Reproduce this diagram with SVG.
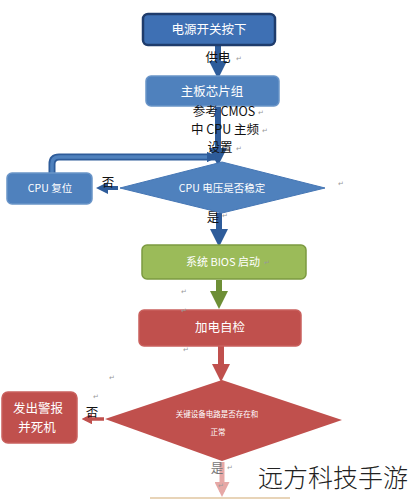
<svg xmlns="http://www.w3.org/2000/svg" width="412" height="500" viewBox="0 0 412 500">
<defs>
<style>
text{font-family:"Noto Sans CJK SC","Liberation Sans",sans-serif;}
.w{fill:#fff;text-anchor:middle;}
.k{fill:#111;text-anchor:middle;font-size:12.5px;}
.p{fill:#999;font-size:7px;}
.blue{fill:#4F81BD;stroke:#6A95C8;stroke-width:1.5;}
</style>
<marker id="ab" markerWidth="3" markerHeight="3" refX="2" refY="1.5" orient="auto" markerUnits="strokeWidth"><path d="M0,0 L3,1.5 L0,3 Z" fill="#2E5C9A"/></marker>
<marker id="ag" markerWidth="3" markerHeight="3" refX="2" refY="1.5" orient="auto" markerUnits="strokeWidth"><path d="M0,0 L3,1.5 L0,3 Z" fill="#6E8F36"/></marker>
<marker id="ar" markerWidth="3" markerHeight="3" refX="2" refY="1.5" orient="auto" markerUnits="strokeWidth"><path d="M0,0 L3,1.5 L0,3 Z" fill="#C0504D"/></marker>
<marker id="ap" markerWidth="3" markerHeight="3" refX="2" refY="1.5" orient="auto" markerUnits="strokeWidth"><path d="M0,0 L3,1.5 L0,3 Z" fill="#E6A8A6"/></marker>
</defs>
<rect width="412" height="500" fill="#fff"/>

<g id="connectors">
<path d="M218,46 V73" stroke="#2E5C9A" stroke-width="6" fill="none" marker-end="url(#ab)"/>
<path d="M218,107 V160" stroke="#2E5C9A" stroke-width="6" fill="none" marker-end="url(#ab)"/>
<path d="M52,173 V164 Q52,157 59,157 H218" stroke="#2E5C9A" stroke-width="7" fill="none"/>
<path d="M52,173 V164 Q52,157 59,157 H214" stroke="#4F81BD" stroke-width="3.5" fill="none" marker-end="url(#ab)"/>
<path d="M118,188 H100" stroke="#2E5C9A" stroke-width="4" fill="none" marker-end="url(#ab)"/>
<path d="M219,213 V241" stroke="#2E5C9A" stroke-width="6" fill="none" marker-end="url(#ab)"/>
<path d="M219,280 V303" stroke="#6E8F36" stroke-width="6" fill="none" marker-end="url(#ag)"/>
<path d="M221,346 V376" stroke="#C0504D" stroke-width="6" fill="none" marker-end="url(#ar)"/>
<path d="M104,419 H85" stroke="#C0504D" stroke-width="3.5" fill="none" marker-end="url(#ar)"/>
<path d="M222,462 V492" stroke="#E6A8A6" stroke-width="5" fill="none" marker-end="url(#ap)"/>
<text x="218" y="62" class="k">供电</text>
<text x="108" y="187" class="k">否</text>
<text x="213" y="222" class="k">是</text>
<text x="92" y="417" class="k">否</text>
<text x="217" y="473" class="k" style="fill:#777">是</text>
</g>

<g id="n1">
<rect x="143" y="14" width="132" height="31" rx="5" fill="#3E70B4" stroke="#1F3C6C" stroke-width="2.5"/>
<text x="209" y="34" class="w" font-size="12.5">电源开关按下</text>
</g>

<g id="n2">
<rect x="146" y="76" width="133" height="30" rx="5" class="blue"/>
<text x="212" y="96" class="w" font-size="12.5">主板芯片组</text>
</g>

<g id="note">
<text x="224" y="116" class="k">参考 CMOS</text>
<text x="225" y="134" class="k">中 CPU 主频</text>
<text x="220" y="152" class="k">设置</text>
</g>

<g id="n3">
<polygon points="120,188 222,162 325,188 222,213" fill="#4F81BD" stroke="#4677B5" stroke-width="1"/>
<text x="222" y="192" class="w" font-size="10.5">CPU 电压是否稳定</text>
</g>

<g id="n4">
<rect x="7" y="173" width="85" height="31" rx="5" class="blue"/>
<text x="50" y="192" class="w" font-size="10.5">CPU 复位</text>
</g>

<g id="n5">
<rect x="142" y="245" width="164" height="34" rx="5" fill="#9BBB59" stroke="#7C9A40" stroke-width="1.5"/>
<text x="223" y="266" class="w" font-size="11">系统 BIOS 启动</text>
</g>

<g id="n6">
<rect x="139" y="310" width="162" height="36" rx="5" fill="#C0504D" stroke="#C9605D" stroke-width="1.5"/>
<text x="220" y="332" class="w" font-size="12.5">加电自检</text>
</g>

<g id="n7">
<polygon points="105,419 222,380 342,420 222,461" fill="#C0504D"/>
<text x="217" y="417" class="w" font-size="7.5">关键设备电路是否存在和</text>
<text x="218" y="435" class="w" font-size="7.5">正常</text>
</g>

<g id="n8">
<rect x="2" y="392" width="75" height="51" rx="6" fill="#C0504D" stroke="#C9605D" stroke-width="1.5"/>
<text x="38" y="413" class="w" font-size="12.5">发出警报</text>
<text x="37" y="432" class="w" font-size="12.5">并死机</text>
</g>

<g id="n9">
<line x1="150" y1="498" x2="290" y2="498" stroke="#E8D4B8" stroke-width="2"/>
</g>

<g id="marks">
<text x="236" y="61" class="p">↵</text>
<text x="258" y="115" class="p">↵</text>
<text x="262" y="133" class="p">↵</text>
<text x="236" y="151" class="p">↵</text>
<text x="338" y="186" class="p">↵</text>
<text x="222" y="218" class="p">↵</text>
<text x="264" y="265" class="p">↵</text>
<text x="181" y="294" class="p">↵</text>
<text x="181" y="313" class="p">↵</text>
<text x="183" y="352" class="p">↵</text>
<text x="109" y="380" class="p">↵</text>
<text x="93" y="399" class="p">↵</text>
<text x="227" y="470" class="p">↵</text>
<text x="218" y="488" class="p">↵</text>
</g>

<text x="258" y="487" font-size="25" fill="#222" style="font-weight:300">远方科技手游</text>
</svg>
